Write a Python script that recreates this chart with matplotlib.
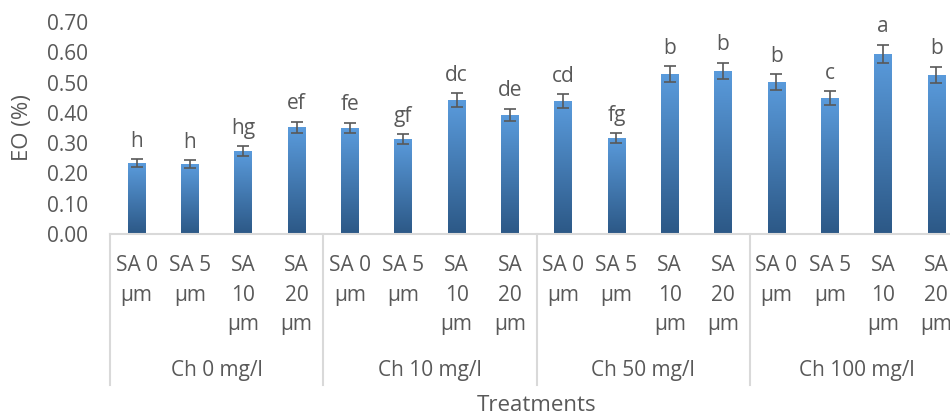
import numpy as np
import matplotlib
matplotlib.use("Agg")
import matplotlib.pyplot as plt
from matplotlib.colors import LinearSegmentedColormap

plt.rcParams['font.family'] = ['Open Sans', 'DejaVu Sans']

# data
sa_labels = ['SA 0\nµm', 'SA 5\nµm', 'SA\n10\nµm', 'SA\n20\nµm']
ch_labels = ['Ch 0 mg/l', 'Ch 10 mg/l', 'Ch 50 mg/l', 'Ch 100 mg/l']
eo_values = [0.234, 0.231, 0.274, 0.353,
             0.350, 0.314, 0.442, 0.393,
             0.439, 0.317, 0.528, 0.538,
             0.502, 0.449, 0.594, 0.525]
eo_errors = [0.013, 0.012, 0.015, 0.018,
             0.018, 0.016, 0.023, 0.020,
             0.022, 0.016, 0.026, 0.027,
             0.025, 0.023, 0.031, 0.027]
letters = ['h', 'h', 'hg', 'ef',
           'fe', 'gf', 'dc', 'de',
           'cd', 'fg', 'b', 'b',
           'b', 'c', 'a', 'b']

text_col = '#595959'
line_col = '#D9D9D9'

fig = plt.figure(figsize=(9.5, 4.16), dpi=100)
# plot area runs past the right edge, like the cropped original
ax = fig.add_axes([110 / 950, 182 / 416, 853 / 950, 212 / 416])

x = np.arange(len(eo_values))
bars = ax.bar(x, eo_values, width=0.33, color='none', zorder=2)

grad_cmap = LinearSegmentedColormap.from_list('bar_grad', ['#2C5886', '#5A9BDC'])
grad = np.linspace(0, 1, 256).reshape(-1, 1)
for b in bars:
    x0, y0 = b.get_x(), b.get_y()
    im = ax.imshow(grad, cmap=grad_cmap, origin='lower', aspect='auto',
                   extent=[x0, x0 + b.get_width(), y0, y0 + b.get_height()], zorder=2)
    im.set_clip_path(b)

ax.errorbar(x, eo_values, yerr=eo_errors, fmt='none', ecolor=text_col,
            elinewidth=1.2, capsize=4.5, capthick=1.2, zorder=3)

for xi, v, e, lab in zip(x, eo_values, eo_errors, letters):
    ax.annotate(lab, (xi, v + e), xytext=(0, 9), textcoords='offset points',
                ha='center', va='baseline', fontsize=15, color=text_col)

ax.set_xlim(-0.5, len(eo_values) - 0.5)
ax.set_ylim(0, 0.70)
ax.set_yticks(np.arange(0, 0.71, 0.1))
ax.set_yticklabels(['{:.2f}'.format(t) for t in np.arange(0, 0.71, 0.1)])
ax.tick_params(axis='y', length=0, pad=16, labelsize=15, labelcolor=text_col)
ax.set_xticks([])

for s in ['top', 'right', 'left']:
    ax.spines[s].set_visible(False)
ax.spines['bottom'].set_color(line_col)
ax.spines['bottom'].set_linewidth(1.5)

trans = ax.get_xaxis_transform()
for i in range(len(eo_values)):
    ax.text(i, -0.1, sa_labels[i % 4], transform=trans, ha='center', va='top',
            fontsize=15, color=text_col, linespacing=1.52)

for g, lab in enumerate(ch_labels):
    ax.text(g * 4 + 1.5, -0.645, lab, transform=trans, ha='center', va='center',
            fontsize=15, color=text_col)

for g in range(len(ch_labels) + 1):
    ax.plot([g * 4 - 0.5, g * 4 - 0.5], [0, -0.712], transform=trans,
            color=line_col, lw=1.5, clip_on=False)

ax.text(0.5, -0.807, 'Treatments', transform=ax.transAxes, ha='center', va='center',
        fontsize=16, color=text_col)
ax.text(-0.102, 0.5, 'EO (%)', transform=ax.transAxes, ha='center', va='center',
        rotation=90, fontsize=16, color=text_col)

fig.savefig('out.png', dpi=100)
